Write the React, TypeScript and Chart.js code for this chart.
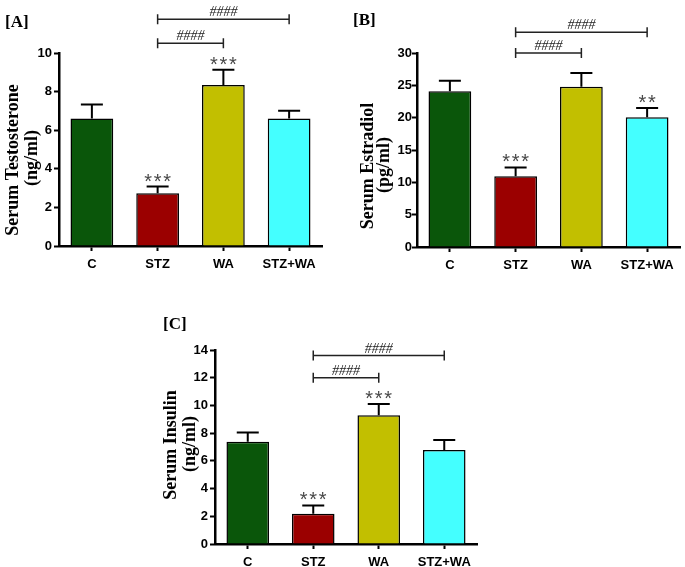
import React, { useEffect, useRef } from "react";
import { Chart, registerables } from "chart.js";

Chart.register(...registerables);

const categories = ["C", "STZ", "WA", "STZ+WA"];
const barColors = ["#0a560a", "#9b0000", "#c2bf00", "#44ffff"];

const testosteroneValues = [6.6, 2.73, 8.34, 6.6];
const testosteroneErrors = [0.73, 0.35, 0.79, 0.41];
const testosteroneStars = ["", "***", "***", ""];
const testosteroneBrackets = [
  { from: 1, to: 2, value: 10.5, label: "####" },
  { from: 1, to: 3, value: 11.75, label: "####" },
];
const testosteroneAxis = { max: 10, step: 2 };
const testosteroneTitle = ["Serum Testosterone", "(ng/ml)"];

const estradiolValues = [24.1, 10.95, 24.8, 20.05];
const estradiolErrors = [1.6, 1.35, 2.1, 1.45];
const estradiolStars = ["", "***", "", "**"];
const estradiolBrackets = [
  { from: 1, to: 2, value: 30.0, label: "####" },
  { from: 1, to: 3, value: 33.2, label: "####" },
];
const estradiolAxis = { max: 30, step: 5 };
const estradiolTitle = ["Serum Estradiol", "(pg/ml)"];

const insulinValues = [7.38, 2.18, 9.3, 6.78];
const insulinErrors = [0.66, 0.6, 0.8, 0.72];
const insulinStars = ["", "***", "***", ""];
const insulinBrackets = [
  { from: 1, to: 2, value: 12.0, label: "####" },
  { from: 1, to: 3, value: 13.6, label: "####" },
];
const insulinAxis = { max: 14, step: 2 };
const insulinTitle = ["Serum Insulin", "(ng/ml)"];

type Bracket = { from: number; to: number; value: number; label: string };
type Pos = { x: number; y: number };

function annotPlugin(errors: number[], stars: string[], brackets: Bracket[], title: string[], titlePos: Pos[]) {
  return {
    id: "annot",
    afterDatasetsDraw(chart: any) {
      const ctx = chart.ctx as CanvasRenderingContext2D;
      const meta = chart.getDatasetMeta(0);
      const ys = chart.scales.y;
      const xs = chart.scales.x;
      const values = chart.data.datasets[0].data as number[];
      ctx.save();
      meta.data.forEach((bar: any, i: number) => {
        const base = ys.getPixelForValue(values[i]);
        const top = ys.getPixelForValue(values[i] + errors[i]);
        ctx.strokeStyle = "#000";
        ctx.lineWidth = 2;
        ctx.beginPath();
        ctx.moveTo(bar.x, base);
        ctx.lineTo(bar.x, top);
        ctx.moveTo(bar.x - 11, top);
        ctx.lineTo(bar.x + 11, top);
        ctx.stroke();
        const s = stars[i];
        if (s) {
          ctx.fillStyle = "#484848";
          ctx.font = "20px 'Liberation Sans'";
          ctx.textAlign = "center";
          ctx.textBaseline = "alphabetic";
          const n = s.length;
          for (let k = 0; k < n; k++) {
            ctx.fillText("*", bar.x + (k - (n - 1) / 2) * 9.5, top + 1);
          }
        }
      });
      brackets.forEach((b) => {
        const x1 = xs.getPixelForValue(b.from);
        const x2 = xs.getPixelForValue(b.to);
        const yb = ys.getPixelForValue(b.value);
        ctx.strokeStyle = "#222";
        ctx.lineWidth = 1.5;
        ctx.beginPath();
        ctx.moveTo(x1, yb);
        ctx.lineTo(x2, yb);
        ctx.moveTo(x1, yb - 5);
        ctx.lineTo(x1, yb + 5);
        ctx.moveTo(x2, yb - 5);
        ctx.lineTo(x2, yb + 5);
        ctx.stroke();
        ctx.fillStyle = "#222";
        ctx.font = "italic 14px 'Liberation Serif'";
        ctx.textAlign = "center";
        ctx.textBaseline = "alphabetic";
        ctx.fillText(b.label, (x1 + x2) / 2, yb - 3);
      });
      title.forEach((t, i) => {
        const pos = titlePos[i];
        ctx.save();
        ctx.translate(pos.x, pos.y);
        ctx.rotate(-Math.PI / 2);
        ctx.fillStyle = "#000";
        ctx.font = "bold 18px 'Liberation Serif'";
        ctx.textAlign = "center";
        ctx.textBaseline = "middle";
        ctx.fillText(t, 0, 0);
        ctx.restore();
      });
      ctx.restore();
    },
  };
}

type PanelProps = {
  left: number;
  top: number;
  width: number;
  height: number;
  padTop: number;
  padRight: number;
  yWidth: number;
  xHeight: number;
  tickPad: number;
  titlePos: Pos[];
  values: number[];
  errors: number[];
  stars: string[];
  brackets: Bracket[];
  axis: { max: number; step: number };
  title: string[];
  label: string;
  labelLeft: number;
  labelTop: number;
};

function Panel(p: PanelProps) {
  const ref = useRef<HTMLCanvasElement | null>(null);
  useEffect(() => {
    if (!ref.current) return;
    const tickFont = { family: "'Liberation Sans', Arial", size: 13, weight: "bold" as const };
    const chart = new Chart(ref.current, {
      type: "bar",
      data: {
        labels: categories,
        datasets: [
          {
            data: p.values,
            backgroundColor: barColors,
            borderColor: "#000",
            borderWidth: 1.5,
            barPercentage: 0.65,
            categoryPercentage: 1,
          },
        ],
      },
      options: {
        animation: false,
        responsive: true,
        maintainAspectRatio: false,
        layout: { padding: { left: 0, top: p.padTop, right: p.padRight, bottom: 0 } },
        plugins: { legend: { display: false }, tooltip: { enabled: false } },
        scales: {
          x: {
            offset: true,
            grid: {
              offset: false,
              drawOnChartArea: false,
              drawTicks: true,
              tickLength: 5,
              color: "#000",
              tickColor: "#000",
              tickWidth: 2,
            },
            border: { display: true, color: "#000", width: 2.5 },
            ticks: { color: "#000", font: tickFont, padding: 6, maxRotation: 0, autoSkip: false },
            afterFit: (s: any) => {
              s.height = p.xHeight;
            },
          },
          y: {
            min: 0,
            max: p.axis.max,
            grid: {
              drawOnChartArea: false,
              drawTicks: true,
              tickLength: 5,
              color: "#000",
              tickColor: "#000",
              tickWidth: 2,
            },
            border: { display: true, color: "#000", width: 2.5 },
            ticks: { stepSize: p.axis.step, color: "#000", font: tickFont, padding: p.tickPad },
            afterFit: (s: any) => {
              s.width = p.yWidth;
            },
          },
        },
      },
      plugins: [annotPlugin(p.errors, p.stars, p.brackets, p.title, p.titlePos)],
    } as any);
    return () => chart.destroy();
  }, []);
  return (
    <>
      <div
        style={{
          position: "absolute",
          left: p.left,
          top: p.top,
          width: p.width,
          height: p.height,
        }}
      >
        <canvas ref={ref} />
      </div>
      <div
        style={{
          position: "absolute",
          left: p.labelLeft,
          top: p.labelTop,
          fontFamily: "'Liberation Serif', 'Times New Roman', serif",
          fontWeight: "bold",
          fontSize: 17,
          lineHeight: "17px",
          color: "#000",
          whiteSpace: "nowrap",
        }}
      >
        {p.label}
      </div>
    </>
  );
}

export default function App() {
  return (
    <div style={{ position: "absolute", left: 0, top: 0, width: 685, height: 567, background: "#fff" }}>
      <Panel
        left={0}
        top={0}
        width={340}
        height={280}
        padTop={53}
        padRight={18}
        yWidth={59}
        xHeight={34}
        tickPad={2}
        titlePos={[{ x: 13, y: 160 }, { x: 32, y: 158 }]}
        values={testosteroneValues}
        errors={testosteroneErrors}
        stars={testosteroneStars}
        brackets={testosteroneBrackets}
        axis={testosteroneAxis}
        title={testosteroneTitle}
        label="[A]"
        labelLeft={5}
        labelTop={13}
      />
      <Panel
        left={340}
        top={0}
        width={345}
        height={280}
        padTop={53}
        padRight={5}
        yWidth={77}
        xHeight={33}
        tickPad={0}
        titlePos={[{ x: 28, y: 166 }, { x: 44, y: 165 }]}
        values={estradiolValues}
        errors={estradiolErrors}
        stars={estradiolStars}
        brackets={estradiolBrackets}
        axis={estradiolAxis}
        title={estradiolTitle}
        label="[B]"
        labelLeft={353}
        labelTop={11}
      />
      <Panel
        left={160}
        top={290}
        width={370}
        height={277}
        padTop={60}
        padRight={53}
        yWidth={55}
        xHeight={23}
        tickPad={2}
        titlePos={[{ x: 11, y: 155 }, { x: 30, y: 154 }]}
        values={insulinValues}
        errors={insulinErrors}
        stars={insulinStars}
        brackets={insulinBrackets}
        axis={insulinAxis}
        title={insulinTitle}
        label="[C]"
        labelLeft={163}
        labelTop={315}
      />
    </div>
  );
}
